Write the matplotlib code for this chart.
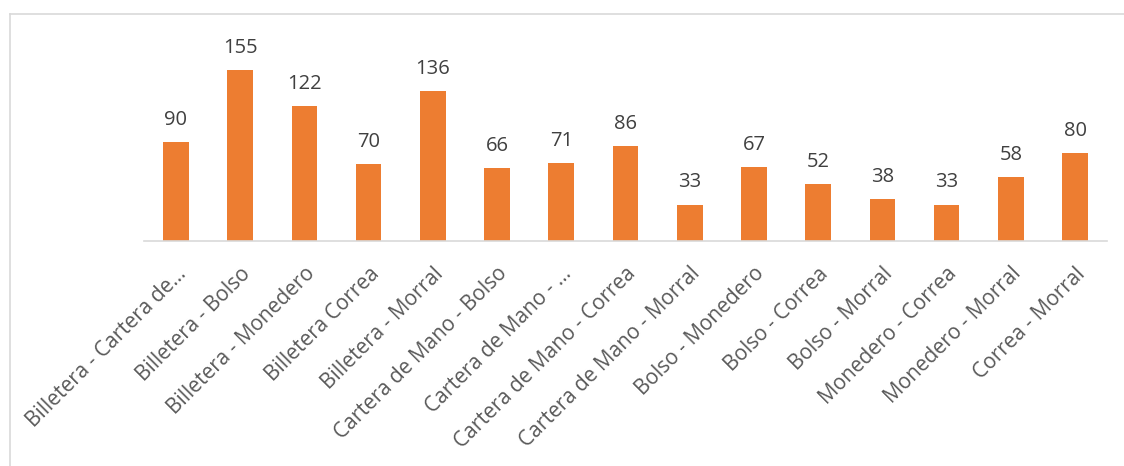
import matplotlib.pyplot as plt
from matplotlib.lines import Line2D

plt.rcParams['font.family'] = ['Open Sans', 'DejaVu Sans']

pairs = [
    "Billetera - Cartera de...",
    "Billetera - Bolso",
    "Billetera - Monedero",
    "Billetera Correa",
    "Billetera - Morral",
    "Cartera de Mano - Bolso",
    "Cartera de Mano - ...",
    "Cartera de Mano - Correa",
    "Cartera de Mano - Morral",
    "Bolso - Monedero",
    "Bolso - Correa",
    "Bolso - Morral",
    "Monedero - Correa",
    "Monedero - Morral",
    "Correa - Morral",
]
counts = [90, 155, 122, 70, 136, 66, 71, 86, 33, 67, 52, 38, 33, 58, 80]

bar_color = "#ED7D31"

fig = plt.figure(figsize=(11.24, 4.66), dpi=100)
ax = fig.add_axes([0.128, 0.4828, 0.857, 0.426])

x = range(len(counts))
bars = ax.bar(x, counts, width=0.4, color=bar_color)

for rect, v in zip(bars, counts):
    ax.text(rect.get_x() + rect.get_width() / 2, v + 11, str(v),
            ha='center', va='bottom', fontsize=14.5, color='#404040')

ax.set_xlim(-0.5, len(counts) - 0.5)
ax.set_ylim(0, 180)
ax.set_yticks([])
ax.set_xticks(list(x))
ax.set_xticklabels(pairs, rotation=45, ha='right', rotation_mode='anchor',
                   fontsize=15, color='#595959')
ax.tick_params(axis='x', length=0, pad=16)

for side in ['top', 'right', 'left']:
    ax.spines[side].set_visible(False)
ax.spines['bottom'].set_color('#D9D9D9')
ax.spines['bottom'].set_linewidth(1.2)

# outer frame of the chart area
fx = 9.5 / 1124
fy = 1 - 13.5 / 466
fig.add_artist(Line2D([fx, 1], [fy, fy], color='#D9D9D9', lw=1.2))
fig.add_artist(Line2D([fx, fx], [0, fy], color='#D9D9D9', lw=1.2))

fig.savefig('out.png', dpi=100, facecolor='white')
